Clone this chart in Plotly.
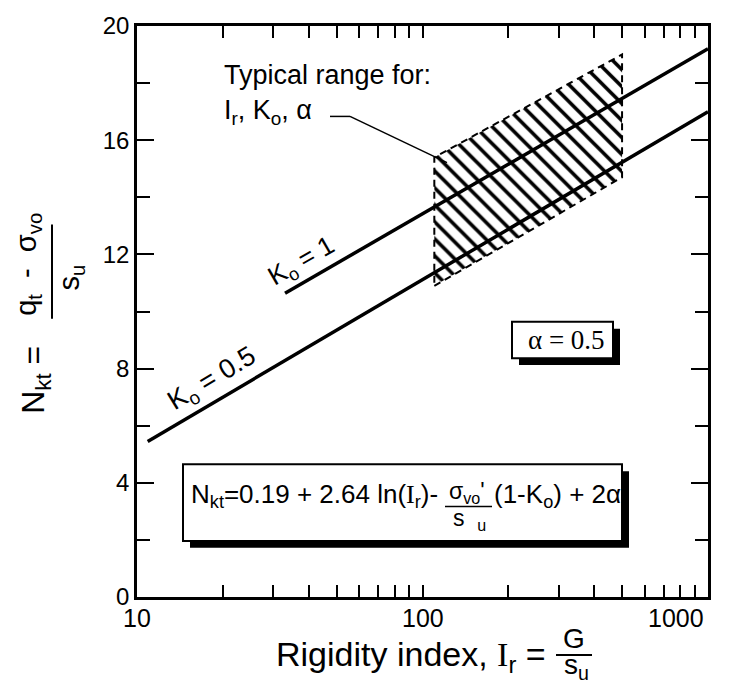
import numpy as np
import plotly.graph_objects as go

# lines (Ir on log axis, Nkt)
k05_x = [10.9, 1000]
k05_y = [5.45, 17.0]
k1_x = [33, 1000]
k1_y = [10.64, 19.2]

# hatched "typical range" band
band_x = [110, 500]
band_lo = [10.9, 14.7]
band_hi = [15.4, 19.0]

x_ticks = [10, 100, 1000]
x_ticktext = ["10", "100", "1000"]
x_minor = [20, 30, 40, 50, 60, 70, 80, 90, 200, 300, 400, 500, 600, 700, 800, 900]
y_ticks = [0, 4, 8, 12, 16, 20]

W, H = 736, 684
L, R, T, B = 137, 708, 16, 597
SANS = "Liberation Sans, Arial, sans-serif"
SERIF = "Liberation Serif, Times New Roman, serif"
SERIF_I = "<span style='font-family:Liberation Serif'>I</span>"


def px(x):
    return (x - L) / (R - L)


def py(y):
    return (B - y) / (B - T)


fig = go.Figure()

poly_x = [band_x[0], band_x[1], band_x[1], band_x[0], band_x[0]]
poly_y = [band_lo[0], band_lo[1], band_hi[1], band_hi[0], band_lo[0]]
fig.add_trace(go.Scatter(
    x=poly_x, y=poly_y, mode="lines", fill="toself",
    fillcolor="white",
    fillpattern=dict(shape="\\", fgcolor="black", bgcolor="white",
                     size=12, solidity=0.3, fillmode="replace"),
    line=dict(color="black", width=2, dash="7px,5px"),
    hoverinfo="skip", showlegend=False))

for xs, ys in [(k05_x, k05_y), (k1_x, k1_y)]:
    fig.add_trace(go.Scatter(x=xs, y=ys, mode="lines",
                             line=dict(color="black", width=3.5),
                             showlegend=False))

ann = []


def text(x, y, s, size=24, family=SANS, angle=0, xanchor="center"):
    ann.append(dict(xref="paper", yref="paper", x=px(x), y=py(y), text=s,
                    showarrow=False, xanchor=xanchor, yanchor="middle",
                    textangle=angle, font=dict(size=size, family=family, color="black")))


shapes = []


def seg(x0, y0, x1, y1, w=2):
    shapes.append(dict(type="line", xref="paper", yref="paper",
                       x0=px(x0), y0=py(y0), x1=px(x1), y1=py(y1),
                       line=dict(color="black", width=w)))


def box(x0, y0, x1, y1, off):
    shapes.append(dict(type="rect", xref="paper", yref="paper",
                       x0=px(x0 + off), y0=py(y0 + off), x1=px(x1 + off), y1=py(y1 + off),
                       fillcolor="black", line=dict(width=0), layer="above"))
    shapes.append(dict(type="rect", xref="paper", yref="paper",
                       x0=px(x0), y0=py(y0), x1=px(x1), y1=py(y1),
                       fillcolor="white", line=dict(color="black", width=2), layer="above"))


# labels in plot
text(222, 66, "Typical range for:", size=27, xanchor="left")
text(222, 103, "I<sub>r</sub>, K<sub>o</sub>, α", size=27, xanchor="left")
seg(330, 108, 350, 108, 1.5)
seg(350, 108, 447, 155, 1.5)
text(302, 256, "K<sub>o</sub> = 1", size=26, angle=-30)
text(212, 376, "K<sub>o</sub> = 0.5", size=27, angle=-31)

# alpha box
box(512, 317, 613, 354, 7)
text(566, 336, "α = 0.5", size=27, family=SERIF)

# formula box
box(183, 462, 622, 540, 7)
text(189, 494, "N<sub>kt</sub>=0.19 + 2.64 ln(" + SERIF_I + "<sub>r</sub>)- ",
     size=26, xanchor="left")
text(467, 491, "σ<sub>vo</sub>'", size=23)
seg(445, 505, 492, 505, 1.5)
text(469, 518, "s  <sub>u</sub>", size=23)
text(492, 494, "(1-K<sub>o</sub>) + 2α", size=26, xanchor="left")

# y title
text(36, 372, "N<sub>kt</sub> = ", size=32, angle=-90)
text(28, 259, "q<sub>t</sub>  -  σ<sub>vo</sub>", size=29, angle=-90)
seg(52, 218, 52, 314, 2)
text(71, 272, "s<sub>u</sub>", size=29, angle=-90)

# x title
text(548, 658, "Rigidity index, " + SERIF_I + "<sub>r</sub> =", size=34, xanchor="right")
text(574, 639, "G", size=28)
seg(556, 656, 592, 656, 2)
text(576, 668, "s<sub>u</sub>", size=28)

# x tick labels
for v, t in zip(x_ticks, x_ticktext):
    last = v == x_ticks[-1]
    ann.append(dict(xref="x", yref="paper", x=np.log10(v), y=py(618), text=t,
                    showarrow=False, xanchor="right" if last else "center",
                    yanchor="middle", xshift=-2 if last else 0,
                    font=dict(size=25, family=SANS, color="black")))

fig.update_layout(
    width=W, height=H,
    margin=dict(l=L, r=W - R, t=T, b=H - B),
    paper_bgcolor="white", plot_bgcolor="white",
    font=dict(family=SANS, color="black"),
    annotations=ann, shapes=shapes, showlegend=False,
    xaxis=dict(type="log", range=[1, 3], tickvals=x_ticks, showticklabels=False,
               ticks="inside", ticklen=12, tickwidth=1.5, tickcolor="black",
               minor=dict(tickvals=x_minor, ticks="inside", ticklen=12,
                          tickwidth=1.5, tickcolor="black", showgrid=False),
               showline=True, linecolor="black", linewidth=2.5, mirror="ticks",
               showgrid=False, zeroline=False),
    yaxis=dict(range=[0, 20], tickvals=y_ticks, ticks="inside", ticklen=17,
               tickwidth=2, tickcolor="black",
               tickfont=dict(size=24, family=SANS, color="black"),
               minor=dict(dtick=2, ticks="inside", ticklen=13, tickwidth=2,
                          tickcolor="black", showgrid=False),
               showline=True, linecolor="black", linewidth=2.5, mirror="ticks",
               showgrid=False, zeroline=False),
)

fig.write_html("out.html", config={"displayModeBar": False},
               post_script="document.body.style.margin='0px';")
